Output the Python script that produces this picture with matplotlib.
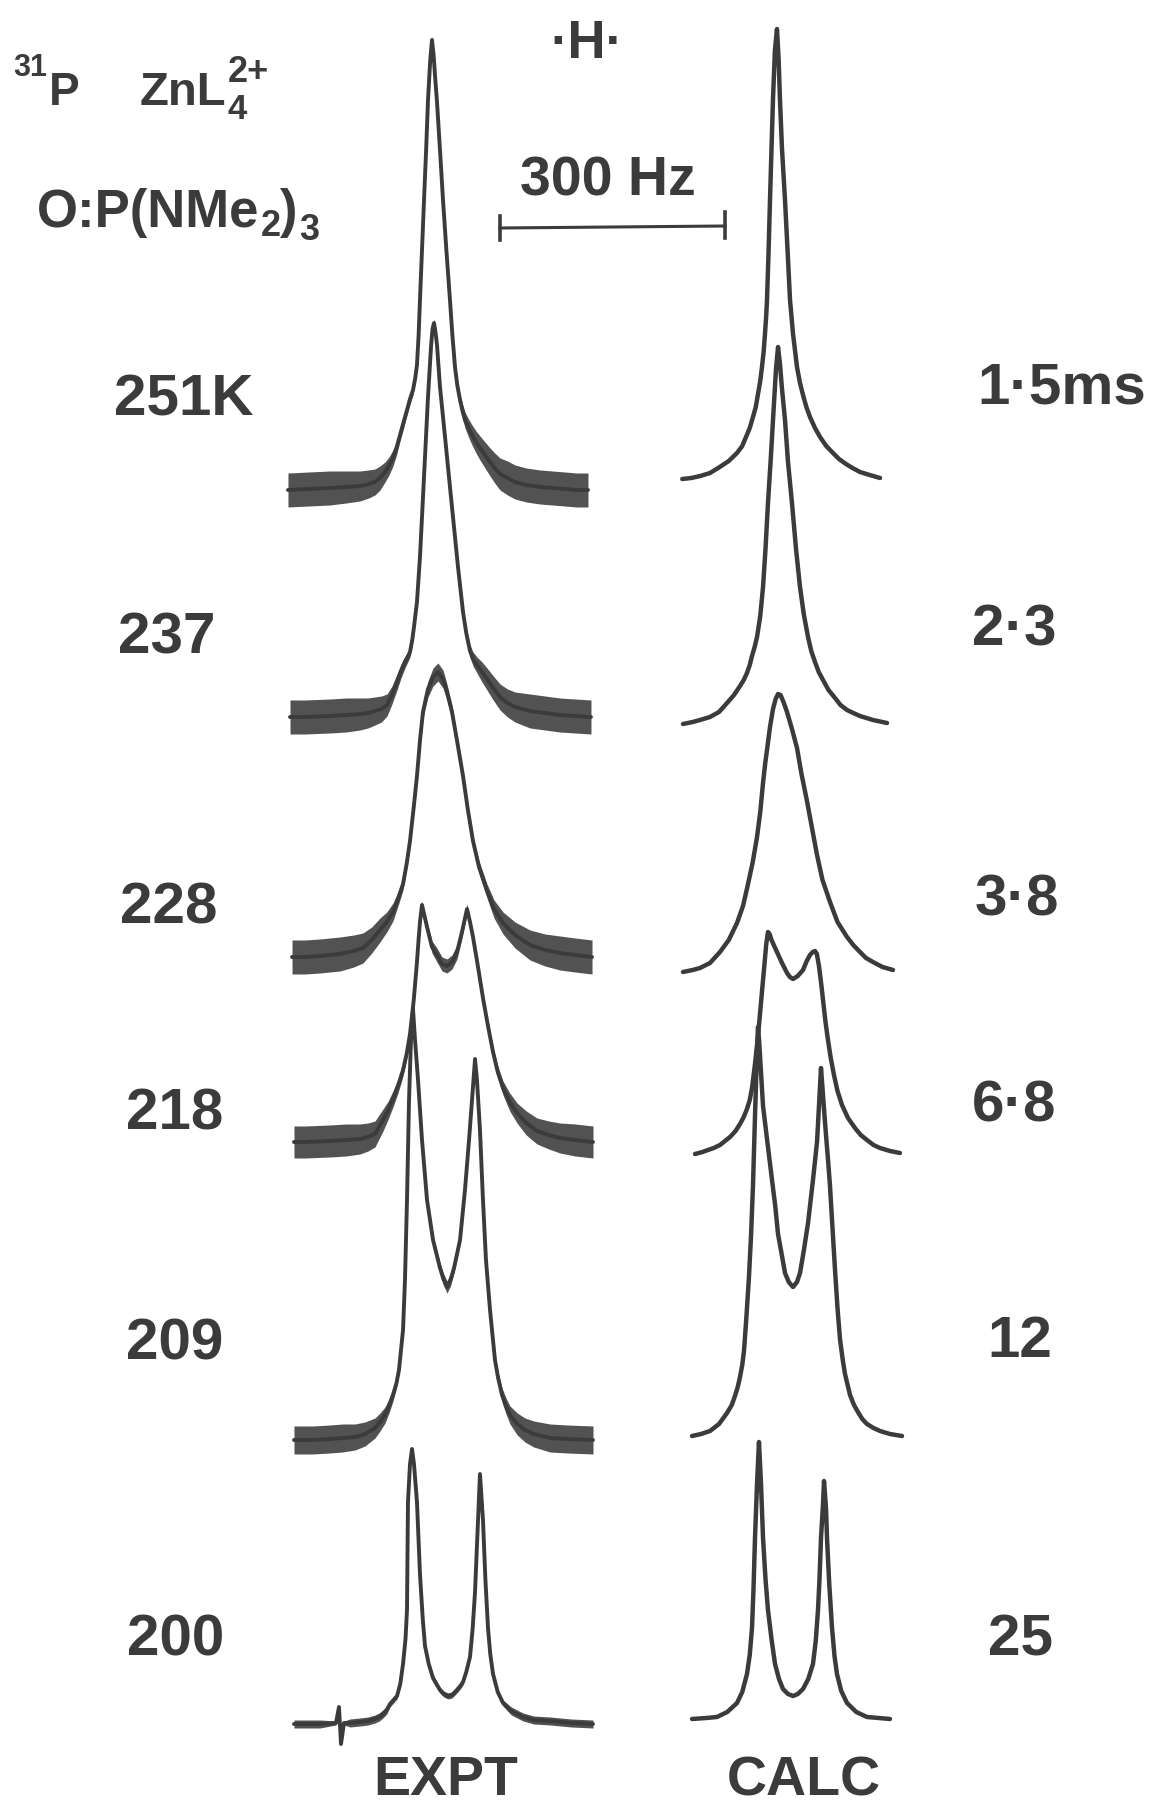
import numpy as np
import matplotlib
matplotlib.use('Agg')
import matplotlib.pyplot as plt

# labels of the rows
temps = ['251K', '237', '228', '218', '209', '200']
lifetimes = ['1·5ms', '2·3', '3·8', '6·8', '12', '25']

# ---- experimental spectra: offset (Hz), intensity (a.u.), noise half width (a.u.)
expt1_hz = [-202.7, -175, -146.7, -125, -106.7, -95, -86.7, -80, -73.3, -68, -62.7, -58, -53.3, -48.5, -44,
            -40, -36, -33, -30.7, -28.5, -26.7, -24, -21.3, -18.5, -16, -13, -10.7, -8.5, -6.7, -4,
            0, 4, 8.5, 13.3, 16.5, 20, 23, 26.7, 30, 33.3, 38, 42.7, 48, 53.3, 60,
            66.7, 73, 80, 90, 100, 115, 133.3, 150, 166.7, 182, 197.3]
expt1_int = [0, 1, 2, 3, 4, 6, 8, 12, 18, 24, 32, 42, 55, 68, 80,
             91, 100, 112, 125, 155, 190, 240, 290, 340, 390, 430, 450, 435, 415, 388,
             340, 290, 240, 190, 155, 123, 105, 90, 79, 70, 62, 55, 48, 42, 35,
             28, 22, 16, 12, 8, 5, 3, 2, 1, 0, 0]
expt1_noise = [17, 17, 17, 16, 15, 14, 13, 12, 10, 9, 8, 7, 6, 6, 5,
               5, 5, 4, 4, 4, 4, 4, 4, 4, 4, 4, 4, 4, 4, 4,
               4, 4, 4, 4, 5, 5, 6, 6, 7, 8, 9, 10, 11, 12, 13,
               14, 15, 16, 17, 17, 17, 17, 17, 17, 17, 17]

expt2_hz = [-200, -180, -146.7, -125, -106.7, -96, -86.7, -78, -70.7, -64, -57.3, -52, -46.7, -43, -40,
            -37, -34.7, -30.7, -26.7, -24, -20, -16, -12, -10, -8, -6, -4, 0, 6.7, 13.3,
            20, 24, 30.7, 35, 40, 44, 49.3, 56, 62.7, 70, 80, 90, 100, 110, 120,
            140, 160, 180, 201.3]
expt2_int = [0, 0, 1, 2, 3, 4, 6, 8, 12, 22, 35, 46, 55, 60, 65,
             77, 90, 115, 160, 200, 260, 320, 370, 388, 394, 385, 372, 330, 280, 230,
             180, 150, 105, 84, 66, 58, 52, 45, 38, 30, 20, 14, 10, 8, 6,
             4, 2, 1, 0]
expt2_noise = [17, 17, 17, 17, 16, 15, 14, 13, 11, 9, 8, 7, 6, 5, 5,
               5, 4, 4, 4, 4, 4, 4, 4, 4, 4, 4, 4, 4, 4, 4,
               4, 4, 5, 5, 6, 7, 8, 10, 11, 12, 13, 14, 15, 16, 17,
               17, 17, 17, 17]

expt3_hz = [-197.3, -180, -160, -133.3, -115, -102.7, -91, -80, -71, -62.7, -56, -49.3, -44.5, -40, -35,
            -30.7, -26.5, -22.7, -19, -16, -9.3, -2.7, 4, 9.3, 16, 23, 30.7, 37, 44, 52,
            62.7, 72, 84, 100, 120, 140, 160, 180, 202.7]
expt3_int = [0, 0, 1, 3, 6, 9, 17, 27, 35, 45, 58, 73, 93, 116, 150,
             181, 218, 245, 258, 268, 280, 285, 278, 265, 245, 215, 181, 148, 116, 90,
             66, 48, 34, 22, 12, 7, 4, 2, 0]
expt3_noise = [17, 17, 17, 17, 16, 15, 13, 12, 10, 9, 7, 6, 5, 5, 5,
               5, 5, 6, 7, 8, 9, 9, 9, 8, 7, 6, 5, 5, 5, 6,
               7, 9, 11, 13, 15, 16, 17, 17, 17]

expt4_hz = [-194.7, -180, -146.7, -125, -106.7, -96, -86.7, -76, -69, -62.7, -56, -49.3, -44.5, -40, -35,
            -30.7, -28.5, -26.7, -24, -17.3, -10.7, -4, 2.7, 9.3, 16, 22.7, 29.3, 36, 40, 44,
            50.7, 57.3, 64, 70.7, 77, 84, 93, 102.7, 115, 129.3, 145, 160, 180, 204]
expt4_int = [0, 0, 1, 2, 3, 5, 8, 22, 32, 43, 56, 72, 88, 108, 142,
             180, 203, 220, 237, 215, 195, 187, 178, 176, 180, 190, 210, 233, 220, 205,
             175, 144, 116, 90, 70, 54, 40, 29, 19, 11, 7, 4, 2, 0]
expt4_noise = [16, 16, 16, 16, 15, 14, 13, 11, 9, 8, 7, 6, 5, 5, 4,
               4, 4, 4, 4, 5, 6, 7, 7, 7, 7, 7, 6, 5, 4, 4,
               4, 4, 4, 5, 6, 7, 9, 10, 12, 13, 14, 15, 16, 16]

expt5_hz = [-194.7, -170, -146.7, -130, -113.3, -100, -86.7, -80, -73.3, -67.5, -62.7, -58, -54.7, -49.3, -46.7,
            -44, -41.3, -38.7, -36, -33.3, -29.3, -24, -17.3, -9.3, 0, 4.5, 9.3, 14, 18.7, 26.7,
            33.3, 38.7, 42.7, 46.7, 49.3, 53.3, 57.3, 61.3, 66.7, 73.3, 77.5, 82.7, 88, 93.3, 103,
            113.3, 125, 146.7, 170, 204]
expt5_int = [0, 0, 1, 2, 3, 6, 12, 18, 25, 35, 45, 57, 70, 110, 160,
             240, 340, 400, 431, 400, 360, 300, 240, 200, 172, 161, 153, 160, 172, 200,
             250, 300, 340, 381, 360, 310, 240, 180, 130, 80, 62, 45, 34, 25, 16,
             10, 6, 2, 1, 0]
expt5_noise = [14, 14, 14, 14, 13, 12, 10, 9, 8, 7, 6, 5, 4, 4, 3,
               3, 3, 3, 3, 3, 3, 3, 4, 5, 5, 6, 6, 6, 5, 4,
               3, 3, 3, 3, 3, 3, 3, 3, 4, 5, 6, 7, 8, 9, 11,
               12, 13, 14, 14, 14]

expt6_hz = [-194.7, -180, -160, -138.7, -134.7, -132, -128, -120, -106.7, -96, -86.7, -81, -76, -71, -66.7,
            -62, -57.3, -53, -49.3, -46, -44, -42.7, -40, -37.3, -34.7, -30.7, -26.7, -23, -20, -15,
            -9.3, -4, 0, 5, 10.7, 16, 21.3, 26, 30.7, 35, 40, 43.5, 46.7, 50.7, 53.3,
            57.3, 60.5, 64, 67, 70.7, 77, 84, 95, 110.7, 125, 146.7, 175, 204]
expt6_int = [0, 0, 0, 1, 17, -20, 1, 1, 2, 3, 5, 7, 10, 14, 20,
             24, 28, 40, 60, 85, 114, 222, 260, 275, 260, 222, 150, 105, 78, 60,
             46, 39, 34, 30, 28, 29, 33, 37, 42, 52, 67, 95, 132, 204, 250,
             204, 145, 96, 70, 50, 32, 21, 13, 7, 4, 3, 1, 0]
expt6_noise = [4, 4, 4, 2, 2, 2, 2, 4, 4, 4, 4, 4, 4, 4, 3,
               3, 3, 3, 3, 2, 2, 2, 2, 2, 2, 2, 2, 2, 2, 3,
               3, 3, 3, 3, 3, 3, 3, 3, 3, 3, 3, 2, 2, 2, 2,
               2, 2, 2, 3, 3, 3, 3, 4, 4, 4, 4, 4, 4]

# ---- calculated spectra: offset (Hz), intensity (a.u.)
calc1_hz = [-137, -125, -113, -100, -87, -75, -64, -57, -52, -47, -42.7, -39, -36, -33, -30.7,
            -28.5, -26.7, -25, -24, -22, -20, -18, -16, -13.5, -10.7, -8.5, -6.7, -4, 0, 4,
            6.7, 10.7, 16, 20, 24, 28.5, 33.3, 40, 46.7, 55, 64, 72, 81.3, 90, 100, 113, 126.7]
calc1_int = [0, 1, 3, 6, 12, 18, 26, 33, 42, 51, 62, 72, 85, 98, 112,
             127, 145, 164, 179, 225, 279, 330, 380, 428, 450, 420, 379, 330, 279, 220,
             179, 145, 112, 96, 84, 72, 62, 51, 42, 33, 26, 20, 15, 11, 7, 4, 1]

calc2_hz = [-136, -123, -113.3, -100, -88, -77.3, -68, -60, -55, -50.7, -47, -44, -40.5, -37.3, -33,
            -29.3, -26, -22.7, -19, -16, -12, -9.3, -6.7, -4, 0, 4, 9.3, 14.7, 20, 25,
            30.7, 35, 40, 45, 50.7, 58, 66.7, 74, 82.7, 91, 100, 117.3, 136]
calc2_int = [0, 2, 4, 7, 12, 21, 29, 38, 44, 51, 59, 68, 77, 87, 108,
             137, 175, 221, 265, 304, 355, 377, 360, 335, 304, 262, 221, 175, 137, 110,
             87, 73, 62, 52, 44, 34, 26, 19, 14, 11, 8, 4, 1]

calc3_hz = [-136, -123, -113.3, -100, -86.7, -75, -64, -56, -49.3, -43, -37.3, -33, -29.3, -26.5, -24,
            -20, -16, -12.5, -9.3, -6, -2, 2.7, 9.3, 16, 22, 29.3, 36, 42.7, 50, 60,
            70, 82.7, 91, 100, 108, 117.3, 130, 144]
calc3_int = [0, 2, 4, 9, 20, 32, 49, 66, 88, 110, 135, 160, 189, 208, 222,
             245, 263, 273, 278, 277, 270, 260, 243, 224, 198, 171, 144, 117, 92, 70,
             50, 35, 27, 20, 14, 10, 5, 2]

calc4_hz = [-120, -110, -102.7, -95, -86.7, -80, -73.3, -66, -60, -55, -50.7, -47, -44, -40, -36,
            -33, -30, -27, -25, -22.7, -20.5, -18, -10.7, -4, 2.7, 6.5, 10.7, 17, 24, 29,
            33.3, 37, 40, 42.5, 45.3, 48, 51, 54, 57.3, 61, 65.3, 70, 76, 84, 93.3,
            101, 109.3, 118, 126.7, 140, 153.3]
calc4_int = [0, 2, 4, 6, 9, 13, 17, 23, 30, 37, 45, 54, 66, 90, 118,
             143, 168, 193, 210, 222, 220, 214, 202, 191, 181, 177, 175, 178, 184, 193,
             199, 202, 203, 200, 188, 172, 152, 132, 114, 96, 79, 63, 49, 36, 26,
             19, 14, 9, 6, 3, 1]

calc5_hz = [-124, -112, -100, -88, -77.3, -71, -66.7, -63, -60, -57, -54.7, -52, -50, -48, -45.3,
            -42.7, -40, -37.3, -36, -34.5, -33.3, -29.3, -24, -17.3, -13, -9.3, -4, 0, 5, 10.7,
            16, 20, 25, 30.7, 37.3, 42.7, 45.3, 48, 50, 52.5, 55, 57.5, 60, 63, 66.7,
            70, 73.3, 77, 80, 86.7, 92, 97.3, 103, 109.3, 118, 126.7, 140, 156]
calc5_int = [0, 2, 5, 12, 23, 31, 40, 49, 59, 71, 85, 113, 136, 160, 200,
             250, 320, 385, 409, 395, 380, 330, 297, 256, 230, 202, 180, 163, 154, 149,
             154, 163, 185, 213, 256, 294, 330, 368, 348, 322, 298, 275, 250, 212, 166,
             128, 97, 76, 62, 41, 31, 24, 17, 12, 8, 5, 2, 0]

calc6_hz = [-124, -105, -90.7, -77, -64, -57, -50.7, -47, -44, -42, -40, -37.3, -34.7, -32, -29.3,
            -26, -22.7, -18, -13.3, -8, -2.7, 4, 10.7, 17, 24, 31, 37.3, 41, 44, 46,
            48, 50.7, 52, 53.3, 54.7, 56, 59, 62.7, 66, 69.3, 75, 82.7, 95, 109.3, 125, 140]
calc6_int = [0, 1, 2, 7, 16, 27, 45, 64, 91, 130, 181, 235, 277, 235, 181,
             140, 109, 80, 55, 40, 30, 25, 23, 25, 30, 40, 55, 78, 109, 140,
             181, 215, 238, 225, 210, 181, 135, 91, 63, 45, 28, 16, 7, 2, 1, 0]

expt_hz = [expt1_hz, expt2_hz, expt3_hz, expt4_hz, expt5_hz, expt6_hz]
expt_int = [expt1_int, expt2_int, expt3_int, expt4_int, expt5_int, expt6_int]
expt_noise = [expt1_noise, expt2_noise, expt3_noise, expt4_noise, expt5_noise, expt6_noise]
calc_hz = [calc1_hz, calc2_hz, calc3_hz, calc4_hz, calc5_hz, calc6_hz]
calc_int = [calc1_int, calc2_int, calc3_int, calc4_int, calc5_int, calc6_int]

# stacking (baseline level of each trace)
expt_base = [1317, 1090, 850, 665, 367, 83]
calc_base = [1328, 1083, 835, 653, 371, 88]

W, H = 1152, 1807
px_per_hz = 0.75
ink = '#3b3b3b'

fig = plt.figure(figsize=(W / 100, H / 100), dpi=100)
fig.patch.set_facecolor('white')

ax_e = fig.add_axes([0, 0, 1, 1])
ax_e.set_xlim(-440 / px_per_hz, (W - 440) / px_per_hz)
ax_e.set_ylim(0, H)
ax_e.axis('off')

ax_c = fig.add_axes([0, 0, 1, 1])
ax_c.set_xlim(-785 / px_per_hz, (W - 785) / px_per_hz)
ax_c.set_ylim(0, H)
ax_c.axis('off')
ax_c.patch.set_alpha(0)

for f, y, w, b in zip(expt_hz, expt_int, expt_noise, expt_base):
    f = np.array(f)
    y = np.array(y) + b
    w = np.array(w)
    ax_e.fill_between(f, y - w, y + w, color='#525252', lw=0)
    ax_e.plot(f, y, color=ink, lw=2.8, solid_joinstyle='round', solid_capstyle='round')

for f, y, b in zip(calc_hz, calc_int, calc_base):
    ax_c.plot(f, np.array(y) + b, color=ink, lw=3.2, solid_joinstyle='round', solid_capstyle='round')

# 300 Hz scale bar
ax_e.plot([80, 380], [H - 228, H - 226], color=ink, lw=2.2)
ax_e.plot([80, 80], [H - 240, H - 216], color=ink, lw=2.6)
ax_e.plot([380, 380], [H - 238, H - 212], color=ink, lw=2.6)

renderer = fig.canvas.get_renderer()


def put(x, y, s, size, ha='left'):
    return fig.text(x / W, 1 - y / H, s, fontsize=size, ha=ha, va='baseline', color=ink,
                    fontfamily='Liberation Sans', fontweight='bold')


def run(x, pieces):
    # draw pieces of text one after the other (for sub/superscripts)
    for s, size, y, gap in pieces:
        t = put(x + gap, y, s, size)
        x = t.get_window_extent(renderer).x1
    return x


run(13, [('31', 22, 76, 0), ('P', 33, 105, 2)])
x_l = run(140, [('ZnL', 34, 105, 0)])
put(x_l + 1, 119, '4', 25)
put(x_l + 1, 82, '2+', 26)
run(37, [('O:P(NMe', 38, 227, 0), ('2', 26, 236, 1), (')', 38, 227, 0), ('3', 26, 240, 1)])
put(587, 58, '·H·', 38, ha='center')
put(608, 195, '300 Hz', 40, ha='center')

temp_x = [184, 167, 169, 175, 175, 176]
temp_y = [415, 654, 923, 1130, 1360, 1656]
for s, x, y in zip(temps, temp_x, temp_y):
    put(x, y, s, 42, ha='center')

life_x = [1062, 1014, 1017, 1014, 1020, 1020]
life_y = [403, 645, 915, 1121, 1357, 1655]
for s, x, y in zip(lifetimes, life_x, life_y):
    put(x, y, s, 42, ha='center')

put(446, 1795, 'EXPT', 40, ha='center')
put(804, 1795, 'CALC', 40, ha='center')

fig.savefig('out.png', dpi=100, facecolor='white')
